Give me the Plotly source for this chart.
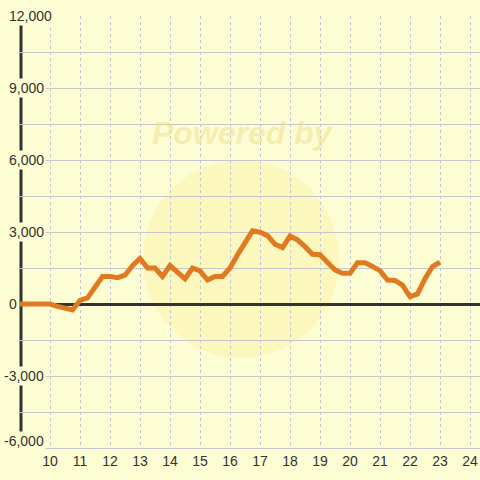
import plotly.graph_objects as go

# time in hours (every 15 minutes from 9:00 to 23:00)
hours = [9 + 0.25 * i for i in range(57)]
values = [
    0, 0, 0, 0, 0, -100, -200, -250,          # 9:00 - 10:45
    150, 250, 700, 1150, 1150, 1100, 1200, 1600,  # 11:00 - 12:45
    1900, 1500, 1500, 1150, 1600, 1350, 1050, 1500,  # 13:00 - 14:45
    1380, 1000, 1150, 1150, 1500, 2050, 2600, 3050,  # 15:00 - 16:45
    2990, 2850, 2490, 2350, 2830, 2670, 2390, 2070,  # 17:00 - 18:45
    2050, 1700, 1420, 1280, 1280, 1720, 1720, 1560,  # 19:00 - 20:45
    1390, 1000, 980, 790, 300, 420, 1050, 1560,      # 21:00 - 22:45
    1740,                                            # 23:00
]

xtick_vals = list(range(10, 25))
xtick_text = [str(v) for v in xtick_vals]
ytick_vals = [12000, 9000, 6000, 3000, 0, -3000, -6000]
ytick_text = ["12,000", "9,000", "6,000", "3,000", "0", "-3,000", "-6,000"]

BG = "#FDFDD3"
TXT = "#333333"
GRID = "#C6C6CC"

fig = go.Figure()
fig.add_trace(go.Scatter(
    x=hours, y=values, mode="lines",
    line=dict(color="#E07A22", width=5),
    hoverinfo="skip", showlegend=False,
))

fig.update_layout(
    width=480, height=480,
    margin=dict(l=20, r=0, t=16, b=32, autoexpand=False),
    paper_bgcolor=BG, plot_bgcolor=BG,
    font=dict(family="Liberation Sans, Arial, sans-serif", size=14, color=TXT),
    xaxis=dict(
        range=[9, 9 + 460 / 30], tickvals=xtick_vals, ticktext=xtick_text,
        showgrid=True, gridcolor=GRID, griddash="3px,3px", gridwidth=1,
        zeroline=False, showline=True, linecolor=GRID, linewidth=1,
        ticks="", tickfont=dict(size=14, color=TXT), fixedrange=True,
        automargin=False,
    ),
    yaxis=dict(
        range=[-6000, 12000], dtick=1500, tick0=0,
        showgrid=True, gridcolor=GRID, gridwidth=1,
        zeroline=True, zerolinecolor=TXT, zerolinewidth=3,
        showticklabels=False, ticks="", showline=False, fixedrange=True,
        automargin=False,
    ),
)

# faint watermark
fig.add_shape(type="circle", xref="x", yref="y", layer="below",
              x0=9 + (143 - 20) / 30, x1=9 + (339 - 20) / 30,
              y0=(304 - 358) / 0.024, y1=(304 - 160) / 0.024,
              fillcolor="rgba(250,236,150,0.35)", line=dict(width=0))
fig.add_annotation(text="<b><i>Powered by</i></b>", xref="paper", yref="paper",
                   x=(243 - 20) / 460, y=(448 - 133) / 432, yanchor="middle",
                   xanchor="center",
                   showarrow=False, font=dict(size=32, color="rgba(238,222,140,0.5)"))

# thick y axis line
fig.add_shape(type="line", xref="paper", yref="y", layer="between",
              x0=1 / 460, x1=1 / 460, y0=-5500, y1=11670,
              line=dict(color=TXT, width=3))

# y tick labels with background boxes
for v, t in zip(ytick_vals, ytick_text):
    fig.add_annotation(
        text=t, xref="paper", yref="y", x=(7 - 20) / 460 - (5 / 460 if v < 0 else 0),
        y=v + (300 if v == -6000 else 0),
        xanchor="left", yanchor="middle", showarrow=False,
        bgcolor=BG, borderpad=1, font=dict(size=14, color=TXT),
    )

fig.write_html(
    "out.html",
    config={"displayModeBar": False, "staticPlot": True},
    post_script="document.body.style.margin='0';document.body.style.background='#FDFDD3';",
)
